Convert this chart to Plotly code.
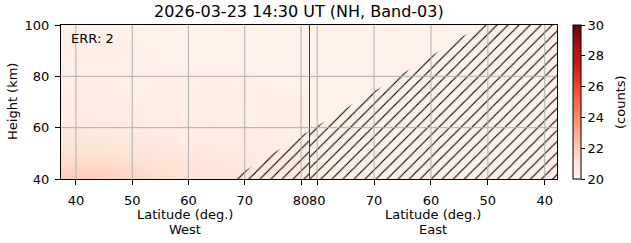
import plotly.graph_objects as go

# ---------------- data ----------------
heights = [40, 44, 48, 52, 56, 60, 70, 80, 90, 100]

west_lat = [37.5, 40, 45, 50, 55, 60, 65, 70, 75, 81.5]
west_counts = [
    [21.85, 21.85, 21.80, 21.60, 21.35, 21.10, 20.95, 20.85, 20.70, 20.60],
    [21.65, 21.65, 21.60, 21.45, 21.20, 21.00, 20.90, 20.80, 20.65, 20.55],
    [21.35, 21.35, 21.30, 21.15, 21.00, 20.90, 20.80, 20.70, 20.60, 20.50],
    [21.05, 21.05, 21.00, 20.90, 20.80, 20.70, 20.65, 20.60, 20.50, 20.45],
    [20.85, 20.85, 20.80, 20.75, 20.65, 20.60, 20.55, 20.50, 20.45, 20.40],
    [20.65, 20.65, 20.60, 20.55, 20.50, 20.50, 20.45, 20.45, 20.40, 20.40],
    [20.50, 20.50, 20.50, 20.45, 20.45, 20.40, 20.40, 20.40, 20.35, 20.35],
    [20.40, 20.40, 20.40, 20.40, 20.35, 20.35, 20.35, 20.35, 20.30, 20.30],
    [20.35, 20.35, 20.35, 20.35, 20.30, 20.30, 20.30, 20.30, 20.30, 20.30],
    [20.30, 20.30, 20.30, 20.30, 20.30, 20.30, 20.30, 20.30, 20.30, 20.30],
]

east_lat = [81.35, 75, 70, 60, 50, 40, 37.85]
east_counts = [
    [20.40, 20.38, 20.36, 20.35, 20.35, 20.35, 20.35],
    [20.38, 20.36, 20.35, 20.34, 20.34, 20.34, 20.34],
    [20.36, 20.35, 20.34, 20.33, 20.33, 20.33, 20.33],
    [20.35, 20.34, 20.33, 20.32, 20.32, 20.32, 20.32],
    [20.34, 20.33, 20.32, 20.31, 20.31, 20.31, 20.31],
    [20.33, 20.32, 20.31, 20.30, 20.30, 20.30, 20.30],
    [20.32, 20.31, 20.30, 20.30, 20.30, 20.30, 20.30],
    [20.30, 20.30, 20.30, 20.30, 20.30, 20.30, 20.30],
    [20.30, 20.30, 20.30, 20.30, 20.30, 20.30, 20.30],
    [20.30, 20.30, 20.30, 20.30, 20.30, 20.30, 20.30],
]

# masked (hatched) region boundary: lowest valid height per latitude
hatch_west_lat = [67.7, 70, 75, 80, 81.5]
hatch_west_h = [40, 43.1, 50.0, 56.8, 58.8]
hatch_east_lat = [81.35, 80, 70, 60, 51.1]
hatch_east_h = [58.8, 60.6, 74.2, 87.8, 100]

west_ticks = [40, 50, 60, 70, 80]
east_ticks = [80, 70, 60, 50, 40]
height_ticks = [40, 60, 80, 100]
cbar_ticks = [20, 22, 24, 26, 28, 30]

west_range = [37.35, 81.5]
east_range = [81.35, 37.85]
height_range = [40, 100]
count_range = [20, 30]

title_text = "2026-03-23 14:30 UT (NH, Band-03)"
err_text = "ERR: 2"

# ---------------- figure ----------------
FONT = "DejaVu Sans"
GRID = "#b0b0b0"
split = 0.501

fig = go.Figure()

fig.add_trace(go.Heatmap(
    x=west_lat, y=heights, z=west_counts, colorscale="Reds",
    zmin=count_range[0], zmax=count_range[1], zsmooth="best",
    showscale=False, xaxis="x", yaxis="y", hoverinfo="skip"))

fig.add_trace(go.Heatmap(
    x=east_lat, y=heights, z=east_counts, colorscale="Reds",
    zmin=count_range[0], zmax=count_range[1], zsmooth="best",
    xaxis="x2", yaxis="y2", hoverinfo="skip",
    colorbar=dict(
        x=(572.7 - 61) / 496, xanchor="left", xpad=0,
        y=0.5, yanchor="middle", ypad=0, len=1, lenmode="fraction",
        thickness=8, outlinewidth=1, outlinecolor="black",
        ticks="outside", ticklen=4, tickwidth=1, tickcolor="black",
        tickmode="array", tickvals=cbar_ticks,
        tickfont=dict(family=FONT, size=13, color="black"),
    )))

pattern = dict(shape="/", size=7.8, solidity=0.14, fgcolor="black",
               fgopacity=1, bgcolor="rgba(0,0,0,0)", fillmode="replace")

# west hatched polygon
wx = hatch_west_lat + [west_range[1], hatch_west_lat[0]]
wy = hatch_west_h + [height_range[0], height_range[0]]
fig.add_trace(go.Scatter(x=wx, y=wy, xaxis="x", yaxis="y", mode="lines",
                         fill="toself", fillcolor="rgba(0,0,0,0)",
                         fillpattern=pattern, line=dict(width=0),
                         hoverinfo="skip", showlegend=False))
# east hatched polygon
ex = hatch_east_lat + [east_range[1], east_range[1], east_range[0]]
ey = hatch_east_h + [height_range[1], height_range[0], height_range[0]]
fig.add_trace(go.Scatter(x=ex, y=ey, xaxis="x2", yaxis="y2", mode="lines",
                         fill="toself", fillcolor="rgba(0,0,0,0)",
                         fillpattern=pattern, line=dict(width=0),
                         hoverinfo="skip", showlegend=False))

# grid lines drawn above the image
shapes = []
for t in west_ticks:
    if min(west_range) < t < max(west_range):
        shapes.append(dict(type="line", xref="x", yref="y domain", x0=t, x1=t,
                           y0=0, y1=1, line=dict(color=GRID, width=1), layer="above"))
for t in east_ticks:
    if min(east_range) < t < max(east_range):
        shapes.append(dict(type="line", xref="x2", yref="y2 domain", x0=t, x1=t,
                           y0=0, y1=1, line=dict(color=GRID, width=1), layer="above"))
for h in height_ticks:
    if height_range[0] < h < height_range[1]:
        for xr in ["x domain", "x2 domain"]:
            shapes.append(dict(type="line", xref=xr, yref="y", x0=0, x1=1,
                               y0=h, y1=h, line=dict(color=GRID, width=1), layer="above"))

axis_common = dict(showline=True, linecolor="black", linewidth=1,
                   ticklen=5, tickwidth=1, tickcolor="black",
                   showgrid=False, zeroline=False, layer="above traces",
                   tickfont=dict(family=FONT, size=13, color="black"))

fig.update_layout(
    width=631, height=243,
    margin=dict(l=61, r=74, t=25, b=64, pad=0),
    paper_bgcolor="white", plot_bgcolor="white",
    font=dict(family=FONT, size=13, color="black"),
    showlegend=False,
    xaxis=dict(domain=[0, split], range=west_range, tickmode="array",
               tickvals=west_ticks, ticktext=[str(t) for t in west_ticks],
               anchor="y", mirror=True, ticks="outside", ticklabelstandoff=4,
               **axis_common),
    xaxis2=dict(domain=[split, 1], range=east_range, tickmode="array",
                tickvals=east_ticks, ticktext=[str(t) for t in east_ticks],
                anchor="y2", mirror=True, ticks="outside", ticklabelstandoff=4,
                **axis_common),
    yaxis=dict(range=height_range, tickmode="array", tickvals=height_ticks,
               anchor="x", mirror=True, ticks="outside", ticklabelstandoff=3,
               **axis_common),
    yaxis2=dict(range=height_range, matches="y", anchor="x2", side="right",
                mirror=False, showticklabels=False, ticks="",
                **axis_common),
    shapes=shapes,
)

ann = [
    dict(text=title_text, xref="paper", yref="paper", x=(298.5 - 61) / 496,
         y=1 + 13 / 154, xanchor="center", yanchor="middle", showarrow=False,
         font=dict(family=FONT, size=16, color="black")),
    dict(text=err_text, xref="x domain", yref="y domain", x=0.031, y=1 - 13 / 154,
         xanchor="left", yanchor="middle", showarrow=False,
         font=dict(family=FONT, size=13, color="black")),
    dict(text="Height (km)", xref="paper", yref="paper", x=(12 - 61) / 496, y=0.5,
         xanchor="center", yanchor="middle", textangle=-90, showarrow=False,
         font=dict(family=FONT, size=13, color="black")),
    dict(text="(counts)", xref="paper", yref="paper", x=(620 - 61) / 496, y=0.5,
         xanchor="center", yanchor="middle", textangle=-90, showarrow=False,
         font=dict(family=FONT, size=13, color="black")),
]
for xr, side in [("x domain", "West"), ("x2 domain", "East")]:
    ann.append(dict(text="Latitude (deg.)", xref=xr, yref="paper", x=0.5,
                    y=(179 - 214) / 154, xanchor="center", yanchor="middle",
                    showarrow=False, font=dict(family=FONT, size=13, color="black")))
    ann.append(dict(text=side, xref=xr, yref="paper", x=0.5,
                    y=(179 - 229.5) / 154, xanchor="center", yanchor="middle",
                    showarrow=False, font=dict(family=FONT, size=13, color="black")))
fig.update_layout(annotations=ann)

fig.write_html("out.html")
